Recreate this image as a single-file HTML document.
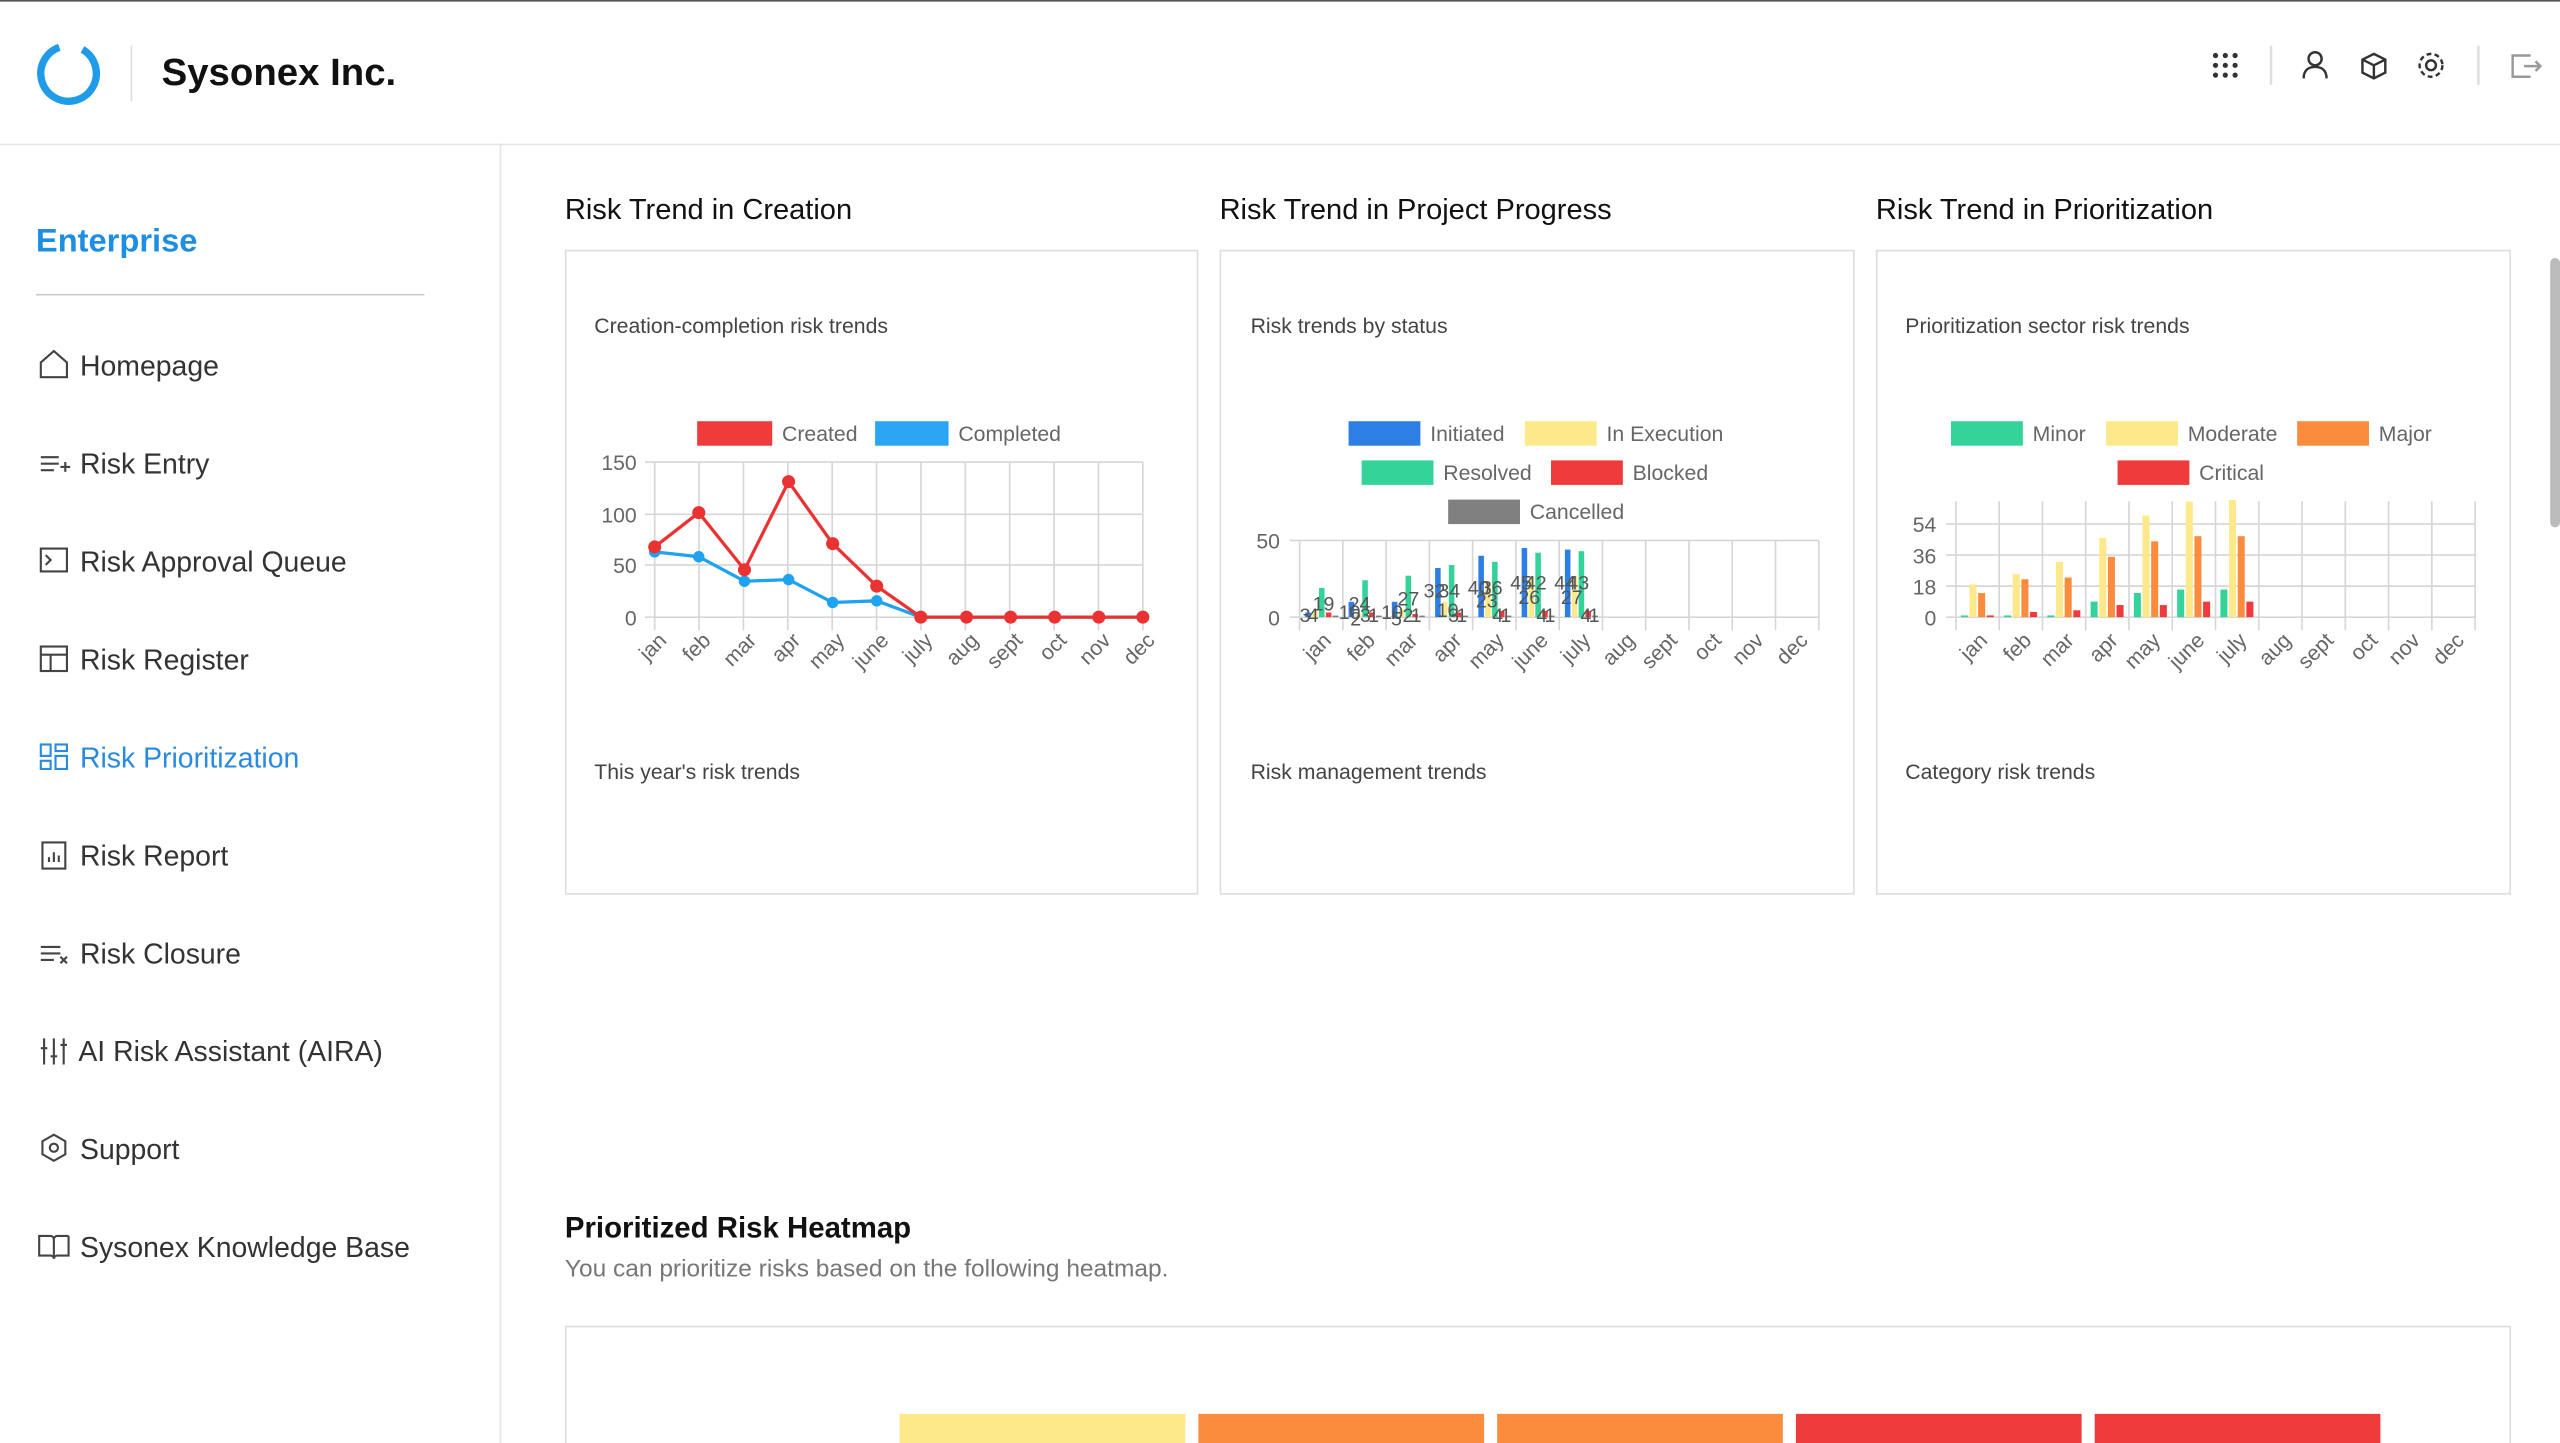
<!DOCTYPE html>
<html><head><meta charset="utf-8"><style>
html,body{margin:0;padding:0;background:#fff;overflow:hidden;width:2560px;height:1443px}
#w{position:absolute;left:0;top:0;width:1568px;height:884px;overflow:hidden;transform:scale(1.63265);transform-origin:0 0;font-family:"Liberation Sans",Arial,sans-serif;color:#222}
.a{position:absolute;white-space:nowrap}
.menu{font-size:17.4px;color:#333}
.card{position:absolute;border:1px solid #ddd;box-sizing:border-box}
.ct{font-size:17.8px;color:#111}
.sub{font-size:13px;color:#444}
svg text{font-family:"Liberation Sans",Arial,sans-serif}
</style></head><body><div id="w">
<div class="a" style="left:0;top:0;width:1568px;height:1px;background:#555"></div>
<div class="a" style="left:0;top:88px;width:1568px;height:1px;background:#e6e6e6"></div>
<div class="a" style="left:306px;top:88px;width:1px;height:796px;background:#e6e6e6"></div>
<svg class="a" style="left:20px;top:23px" width="44" height="44"><circle cx="22" cy="22" r="17" fill="none" stroke="#1e9be9" stroke-width="4.5" stroke-dasharray="92 15" transform="rotate(-60 22 22)"/></svg>
<div class="a" style="left:80px;top:28px;width:1px;height:34px;background:#ddd"></div>
<div class="a" style="left:99px;top:31px;font-size:23.5px;font-weight:bold;color:#111">Sysonex Inc.</div>
<svg class="a" style="left:1350px;top:26px" width="210" height="30" fill="none" stroke="#333" stroke-width="1.5">
<g fill="#333" stroke="none"><circle cx="7" cy="8" r="1.6"/><circle cx="13" cy="8" r="1.6"/><circle cx="19" cy="8" r="1.6"/><circle cx="7" cy="14" r="1.6"/><circle cx="13" cy="14" r="1.6"/><circle cx="19" cy="14" r="1.6"/><circle cx="7" cy="20" r="1.6"/><circle cx="13" cy="20" r="1.6"/><circle cx="19" cy="20" r="1.6"/></g>
<line x1="41" y1="2" x2="41" y2="26" stroke="#ddd"/>
<circle cx="68" cy="10" r="4"/><path d="M61 22c0-5 3-7 7-7s7 2 7 7"/>
<path d="M104 7l7 3.5v8l-7 3.5-7-3.5v-8zM97 10.5l7 3.5 7-3.5M104 14v8"/>
<circle cx="139" cy="14" r="3"/><circle cx="139" cy="14" r="7" stroke-dasharray="3 2"/>
<line x1="168" y1="2" x2="168" y2="26" stroke="#ddd"/>
<path d="M200 8h-11v13h11M196 14.5h10M203 11.5l3 3-3 3" stroke="#999"/>
</svg>
<div class="a" style="left:22px;top:137px;font-size:20px;font-weight:bold;color:#1e8fe0">Enterprise</div>
<div class="a" style="left:22px;top:180px;width:238px;height:1px;background:#ccc"></div>
<svg class="a" style="left:22px;top:212px" width="22" height="570" fill="none" stroke="#444" stroke-width="1.3">
<path d="M3 10l8-7 8 7v9H3z"/>
<path d="M3 68h11M3 72h11M3 76h8M15 74h6M18 71v6"/>
<rect x="3" y="124" width="16" height="14"/><path d="M6 128l3 3-3 3"/>
<rect x="3" y="184" width="16" height="15"/><path d="M3 189h16M9 189v10"/>
<g stroke="#2a8ae0"><rect x="3" y="244" width="6" height="7"/><rect x="12" y="244" width="7" height="4"/><rect x="3" y="254" width="6" height="5"/><rect x="12" y="251" width="7" height="8"/></g>
<rect x="4" y="304" width="14" height="16"/><path d="M8 316v-3M11 316v-6M14 316v-4"/>
<path d="M3 368h12M3 372h12M3 376h8M15 374l4 4M19 374l-4 4"/>
<path d="M5 424v16M11 424v16M17 424v16M3 430h4M9 435h4M15 428h4"/>
<path d="M11 483l7 4v8l-7 4-7-4v-8z"/><circle cx="11" cy="491" r="2.5"/>
<path d="M2 545h7c1 0 2 1 2 2v12c0-1-1-2-2-2H2zM20 545h-7c-1 0-2 1-2 2"/><path d="M20 545v12h-7c-1 0-2 1-2 2"/>
</svg>
<div class="a menu" style="left:49px;top:214px">Homepage</div>
<div class="a menu" style="left:49px;top:274px">Risk Entry</div>
<div class="a menu" style="left:49px;top:334px">Risk Approval Queue</div>
<div class="a menu" style="left:49px;top:394px">Risk Register</div>
<div class="a menu" style="left:49px;top:454px;color:#2a8ae0">Risk Prioritization</div>
<div class="a menu" style="left:49px;top:514px">Risk Report</div>
<div class="a menu" style="left:49px;top:574px">Risk Closure</div>
<div class="a menu" style="left:48px;top:634px">AI Risk Assistant (AIRA)</div>
<div class="a menu" style="left:49px;top:694px">Support</div>
<div class="a menu" style="left:49px;top:754px">Sysonex Knowledge Base</div>

<div class="a ct" style="left:346px;top:118px">Risk Trend in Creation</div>
<div class="a ct" style="left:747px;top:118px">Risk Trend in Project Progress</div>
<div class="a ct" style="left:1149px;top:118px">Risk Trend in Prioritization</div>
<div class="card" style="left:346px;top:153px;width:388px;height:395px"></div>
<div class="card" style="left:747px;top:153px;width:389px;height:395px"></div>
<div class="card" style="left:1149px;top:153px;width:389px;height:395px"></div>
<div class="a sub" style="left:364px;top:192px">Creation-completion risk trends</div>
<div class="a sub" style="left:766px;top:192px">Risk trends by status</div>
<div class="a sub" style="left:1167px;top:192px">Prioritization sector risk trends</div>
<div class="a sub" style="left:364px;top:465px">This year's risk trends</div>
<div class="a sub" style="left:766px;top:465px">Risk management trends</div>
<div class="a sub" style="left:1167px;top:465px">Category risk trends</div>

<svg class="a" style="left:0;top:0" width="1568" height="884" id="s" font-size="13" fill="#666">
<g id="grid" stroke="#d6d6d6" stroke-width="1" fill="none"></g>
<g id="bars"></g>
<rect x="427" y="258" width="46" height="15" fill="#ef3b3b"/><text x="479" y="270">Created</text>
<rect x="536" y="258" width="45" height="15" fill="#2aa6f5"/><text x="587" y="270">Completed</text>
<g text-anchor="end"><text x="390" y="288">150</text><text x="390" y="320">100</text><text x="390" y="351">50</text><text x="390" y="383">0</text></g>
<polyline fill="none" stroke="#1fa2f0" stroke-width="2" points="401,338 428,341 456,356 483,355 510,369 537,368 564,378 592,378 619,378 646,378 673,378 700,378"/>
<polyline fill="none" stroke="#ea3232" stroke-width="2" points="401,335 428,314 456,349 483,295 510,333 537,359 564,378 592,378 619,378 646,378 673,378 700,378"/>
<g fill="#1fa2f0"><circle cx="401" cy="338" r="3.5"/><circle cx="428" cy="341" r="3.5"/><circle cx="456" cy="356" r="3.5"/><circle cx="483" cy="355" r="3.5"/><circle cx="510" cy="369" r="3.5"/><circle cx="537" cy="368" r="3.5"/></g>
<g fill="#ea3232"><circle cx="401" cy="335" r="4"/><circle cx="428" cy="314" r="4"/><circle cx="456" cy="349" r="4"/><circle cx="483" cy="295" r="4"/><circle cx="510" cy="333" r="4"/><circle cx="537" cy="359" r="4"/><circle cx="564" cy="378" r="4"/><circle cx="592" cy="378" r="4"/><circle cx="619" cy="378" r="4"/><circle cx="646" cy="378" r="4"/><circle cx="673" cy="378" r="4"/><circle cx="700" cy="378" r="4"/></g>
<g text-anchor="end" font-size="13">
<text transform="translate(409,393) rotate(-45)">jan</text><text transform="translate(436,393) rotate(-45)">feb</text><text transform="translate(464,393) rotate(-45)">mar</text><text transform="translate(491,393) rotate(-45)">apr</text><text transform="translate(518,393) rotate(-45)">may</text><text transform="translate(545,393) rotate(-45)">june</text><text transform="translate(572,393) rotate(-45)">july</text><text transform="translate(600,393) rotate(-45)">aug</text><text transform="translate(627,393) rotate(-45)">sept</text><text transform="translate(654,393) rotate(-45)">oct</text><text transform="translate(681,393) rotate(-45)">nov</text><text transform="translate(708,393) rotate(-45)">dec</text>
</g>
<rect x="826" y="258" width="44" height="15" fill="#2d7fe6"/><text x="876" y="270">Initiated</text>
<rect x="934" y="258" width="44" height="15" fill="#fde98a"/><text x="984" y="270">In Execution</text>
<rect x="834" y="282" width="44" height="15" fill="#33d39a"/><text x="884" y="294">Resolved</text>
<rect x="950" y="282" width="44" height="15" fill="#ef3b3b"/><text x="1000" y="294">Blocked</text>
<rect x="887" y="306" width="44" height="15" fill="#808080"/><text x="937" y="318">Cancelled</text>
<g text-anchor="end"><text x="784" y="336">50</text><text x="784" y="383">0</text></g>
<g text-anchor="end" font-size="13">
<text transform="translate(816,393) rotate(-45)">jan</text><text transform="translate(843,393) rotate(-45)">feb</text><text transform="translate(869,393) rotate(-45)">mar</text><text transform="translate(896,393) rotate(-45)">apr</text><text transform="translate(922,393) rotate(-45)">may</text><text transform="translate(949,393) rotate(-45)">june</text><text transform="translate(975,393) rotate(-45)">july</text><text transform="translate(1002,393) rotate(-45)">aug</text><text transform="translate(1028,393) rotate(-45)">sept</text><text transform="translate(1055,393) rotate(-45)">oct</text><text transform="translate(1081,393) rotate(-45)">nov</text><text transform="translate(1108,393) rotate(-45)">dec</text>
</g>
<g font-size="12" fill="#555">
<text x="796" y="381">3</text><text x="801" y="381">4</text><text x="804" y="374">19</text>
<text x="820" y="379">10</text><text x="826" y="374">24</text><text x="827" y="383">2</text><text x="833" y="381">3</text><text x="838" y="381">1</text>
<text x="846" y="379">10</text><text x="856" y="371">27</text><text x="852" y="383">5</text><text x="859" y="381">2</text><text x="864" y="381">1</text>
<text x="872" y="366">32</text><text x="881" y="366">34</text><text x="880" y="378">10</text><text x="887" y="381">3</text><text x="892" y="381">1</text>
<text x="899" y="364">40</text><text x="907" y="364">36</text><text x="904" y="372">23</text><text x="914" y="381">4</text><text x="919" y="381">1</text>
<text x="925" y="361">45</text><text x="934" y="361">42</text><text x="930" y="370">26</text><text x="941" y="381">4</text><text x="946" y="381">1</text>
<text x="952" y="361">44</text><text x="960" y="361">43</text><text x="956" y="370">27</text><text x="968" y="381">4</text><text x="973" y="381">1</text>
</g>
<rect x="1195" y="258" width="44" height="15" fill="#33d39a"/><text x="1245" y="270">Minor</text>
<rect x="1290" y="258" width="44" height="15" fill="#fde98a"/><text x="1340" y="270">Moderate</text>
<rect x="1407" y="258" width="44" height="15" fill="#fb8c3e"/><text x="1457" y="270">Major</text>
<rect x="1297" y="282" width="44" height="15" fill="#ef3b3b"/><text x="1347" y="294">Critical</text>
<g text-anchor="end"><text x="1186" y="326">54</text><text x="1186" y="345">36</text><text x="1186" y="364">18</text><text x="1186" y="383">0</text></g>
<g text-anchor="end" font-size="13">
<text transform="translate(1218,393) rotate(-45)">jan</text><text transform="translate(1245,393) rotate(-45)">feb</text><text transform="translate(1271,393) rotate(-45)">mar</text><text transform="translate(1298,393) rotate(-45)">apr</text><text transform="translate(1324,393) rotate(-45)">may</text><text transform="translate(1351,393) rotate(-45)">june</text><text transform="translate(1377,393) rotate(-45)">july</text><text transform="translate(1404,393) rotate(-45)">aug</text><text transform="translate(1430,393) rotate(-45)">sept</text><text transform="translate(1457,393) rotate(-45)">oct</text><text transform="translate(1483,393) rotate(-45)">nov</text><text transform="translate(1510,393) rotate(-45)">dec</text>
</g>
<rect x="551" y="866" width="175" height="20" fill="#fde98a"/>
<rect x="734" y="866" width="175" height="20" fill="#fb8c3e"/>
<rect x="917" y="866" width="175" height="20" fill="#fb8c3e"/>
<rect x="1100" y="866" width="175" height="20" fill="#ef3b3b"/>
<rect x="1283" y="866" width="175" height="20" fill="#ef3b3b"/>
</svg>
<div class="a" style="left:346px;top:742px;font-size:18px;font-weight:bold;color:#111">Prioritized Risk Heatmap</div>
<div class="a" style="left:346px;top:769px;font-size:15px;color:#777">You can prioritize risks based on the following heatmap.</div>
<div class="a" style="left:346px;top:812px;width:1192px;height:80px;border:1px solid #ddd;border-bottom:none;box-sizing:border-box"></div>
<div class="a" style="left:1562px;top:158px;width:6px;height:165px;background:#bbb;border-radius:3px"></div>
</div>
<script>
var g=document.getElementById('grid'),b=document.getElementById('bars'),ns='http://www.w3.org/2000/svg';
function L(x1,y1,x2,y2){var l=document.createElementNS(ns,'line');l.setAttribute('x1',x1);l.setAttribute('y1',y1);l.setAttribute('x2',x2);l.setAttribute('y2',y2);g.appendChild(l);}
function R(x,y,w,h,c){var r=document.createElementNS(ns,'rect');r.setAttribute('x',x);r.setAttribute('y',y);r.setAttribute('width',w);r.setAttribute('height',Math.max(h,0.8));r.setAttribute('fill',c);b.appendChild(r);}
var i,j;
for(i=0;i<12;i++){var x=401+i*27.18;L(x,283,x,386);}
[283,315,346,378].forEach(function(y){L(395,y,700,y)});
for(i=0;i<=12;i++){var x=796+i*26.5;L(x,331,x,386);}
[331,378].forEach(function(y){L(790,y,1114,y)});
var d2=[[3,10,10,32,40,45,44],[4,2,5,10,23,26,27],[19,24,27,34,36,42,43],[3,3,2,3,4,4,4],[1,1,1,1,1,1,1]],c2=['#2d7fe6','#fde98a','#33d39a','#ef3b3b','#808080'];
for(j=0;j<5;j++)for(i=0;i<7;i++){var h=d2[j][i]*0.94;R(796+i*26.5+3.5+j*4.2,378-h,3.4,h,c2[j]);}
for(i=0;i<=12;i++){var x=1198+i*26.5;L(x,307,x,386);}
[321,340,359,378].forEach(function(y){L(1192,y,1516,y)});
var d3=[[1,1,1,9,14,16,16],[19,25,32,46,59,67,68],[14,22,23,35,44,47,47],[1,3,4,7,7,9,9]],c3=['#33d39a','#fde98a','#fb8c3e','#ef3b3b'];
for(j=0;j<4;j++)for(i=0;i<7;i++){var h=d3[j][i]*1.055;R(1198+i*26.5+3+j*5.3,378-h,4.3,h,c3[j]);}
</script>
</body></html>
